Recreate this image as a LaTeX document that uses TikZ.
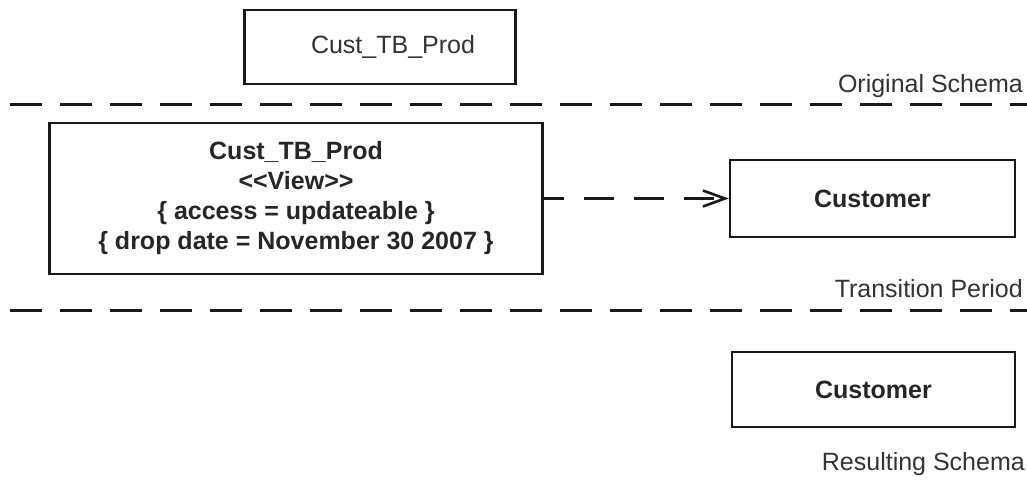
\documentclass[tikz,border=0pt]{standalone}
\usepackage{fontspec}
\setmainfont{Liberation Sans}
\usetikzlibrary{arrows.meta}
\tikzset{
  box/.style={draw=black!90, line width=2.6pt, inner sep=0pt, align=center, text=black!85},
  boldtext/.style={font=\fontsize{25}{30}\selectfont\bfseries},
  lbl/.style={font=\fontsize{25}{30}\selectfont, text=black!80, inner sep=0pt, anchor=base east},
  sepline/.style={draw=black!90, line width=3pt, dash pattern=on 32pt off 18pt},
  dep/.style={draw=black!90, line width=2.8pt, dash pattern=on 30pt off 20pt, dash phase=10pt,
    -{Straight Barb[length=22pt,width=16pt,line width=2.6pt]}},
}
\begin{document}
\begin{tikzpicture}[x=1pt,y=-1pt]
\useasboundingbox[fill=white] (0,0) rectangle (1027,479);
% original schema
\node[box, minimum width=271pt, minimum height=74pt, font=\fontsize{25}{30}\selectfont, text=black!80] (top) at (380,47) {\hspace*{26pt}Cust\_TB\_Prod};
\node[lbl] (orig) at (1023,92) {Original Schema};
\coordinate (s1a) at (10,104);
\coordinate (s1b) at (1027,104);
\draw[sepline] (s1a) -- (s1b);
% transition period
\node[box, boldtext, minimum width=493pt, minimum height=151pt] (mid) at (296,198.5)
  {Cust\_TB\_Prod\\ {<}{<}View{>}{>}\\ \{ access = updateable \}\\ \{ drop date = November 30 2007 \}};
\node[box, boldtext, minimum width=285pt, minimum height=77pt] (cust1) at (872.5,198.5) {Customer};
\draw[dep] (mid.east) -- (cust1.west);
\node[lbl] (trans) at (1023,297) {Transition Period};
\coordinate (s2a) at (10,310);
\coordinate (s2b) at (1027,310);
\draw[sepline] (s2a) -- (s2b);
% resulting schema
\node[box, boldtext, minimum width=283pt, minimum height=75pt] (cust2) at (873.5,389.5) {Customer};
\node[lbl] (res) at (1025,470) {Resulting Schema};
\end{tikzpicture}
\end{document}
